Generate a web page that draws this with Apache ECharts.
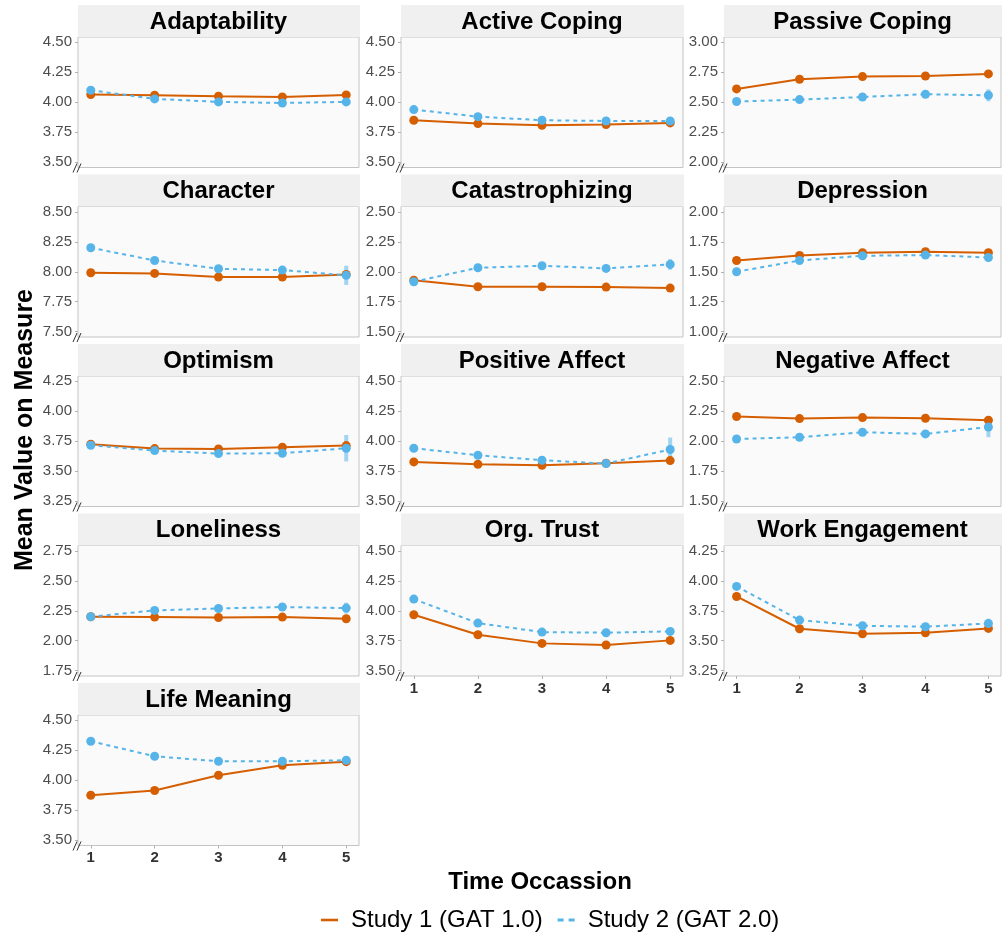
<!DOCTYPE html>
<html>
<head>
<meta charset="utf-8">
<script src="https://cdn.jsdelivr.net/npm/echarts@6.0.0/dist/echarts.min.js"></script>
<style>
html,body{margin:0;padding:0;background:#fff;}
#main{width:1002px;height:937px;}
</style>
</head>
<body>
<div id="main"></div>
<script>
// ---------------- DATA ----------------
const panelNames = ['Adaptability','Active Coping','Passive Coping','Character','Catastrophizing','Depression',
  'Optimism','Positive Affect','Negative Affect','Loneliness','Org. Trust','Work Engagement','Life Meaning'];
const timePoints = [1,2,3,4,5];
const yLow = [3.5,3.5,2.0,7.5,1.5,1.0,3.25,3.5,1.5,1.75,3.5,3.25,3.5];
const study1Means = [
  [4.064,4.058,4.050,4.044,4.061],
  [3.850,3.822,3.808,3.814,3.828],
  [2.611,2.692,2.714,2.719,2.736],
  [7.992,7.986,7.956,7.956,7.978],
  [1.930,1.875,1.875,1.872,1.864],
  [1.594,1.636,1.658,1.667,1.658],
  [3.725,3.689,3.686,3.700,3.714],
  [3.828,3.808,3.800,3.817,3.839],
  [2.206,2.189,2.197,2.192,2.175],
  [2.200,2.197,2.194,2.197,2.183],
  [3.967,3.800,3.728,3.714,3.753],
  [3.869,3.600,3.558,3.567,3.603],
  [3.875,3.915,4.042,4.125,4.155]
];
const study2Means = [
  [4.100,4.028,4.003,3.994,4.003],
  [3.939,3.880,3.850,3.844,3.844],
  [2.506,2.522,2.544,2.567,2.558],
  [8.200,8.094,8.025,8.014,7.970],
  [1.917,2.033,2.050,2.028,2.061],
  [1.500,1.594,1.633,1.639,1.619],
  [3.717,3.672,3.647,3.650,3.692],
  [3.942,3.883,3.842,3.814,3.931],
  [2.019,2.033,2.075,2.061,2.119],
  [2.200,2.253,2.269,2.281,2.272],
  [4.097,3.897,3.822,3.817,3.828],
  [3.953,3.672,3.625,3.617,3.644],
  [4.325,4.200,4.158,4.158,4.167]
];
const study2Err = [
  [0.01,0.01,0.01,0.01,0.02],
  [0.01,0.01,0.01,0.01,0.02],
  [0.01,0.01,0.01,0.01,0.05],
  [0.01,0.01,0.01,0.01,0.08],
  [0.01,0.01,0.01,0.01,0.045],
  [0.01,0.01,0.01,0.01,0.03],
  [0.01,0.01,0.01,0.01,0.11],
  [0.01,0.01,0.01,0.01,0.10],
  [0.01,0.01,0.01,0.01,0.085],
  [0.01,0.01,0.01,0.01,0.045],
  [0.01,0.01,0.01,0.01,0.03],
  [0.01,0.01,0.01,0.01,0.04],
  [0.01,0.01,0.01,0.01,0.03]
];
const xTickLabels = ['1','2','3','4','5'];
const seriesNames = ['Study 1 (GAT 1.0)','Study 2 (GAT 2.0)'];
const yTitle = 'Mean Value on Measure';
const xTitle = 'Time Occassion';

// ---------------- LAYOUT ----------------
const C1 = '#D55E00', C2 = '#56B4E9';
const FONT = '"Liberation Sans", Arial, sans-serif';
const colLeft = [78, 401, 724];
const colW = [281, 282, 277];
const rowStep = 169.5, topStart = 5, stripH = 32, plotH = 130.5;
const pad = 0.044;
const bottomPanels = [10, 11, 12];

const grids = [], xAxes = [], yAxes = [], series = [], graphics = [];

panelNames.forEach((name, i) => {
  const r = Math.floor(i / 3), c = i % 3;
  const left = colLeft[c], w = colW[c];
  const stripTop = topStart + r * rowStep;
  const plotTop = stripTop + stripH;
  grids.push({left: left, top: plotTop, width: w, height: plotH, show: true,
    backgroundColor: '#fafafa', borderColor: '#c4c4c4', borderWidth: 1});
  const isBottom = bottomPanels.includes(i);
  xAxes.push({type: 'value', gridIndex: i, min: 0.8, max: 5.2,
    axisLine: {show: false}, splitLine: {show: false},
    axisTick: {show: isBottom, length: 3, lineStyle: {color: '#b0b0b0'}, customValues: timePoints},
    axisLabel: {show: isBottom, customValues: timePoints, margin: 5,
      formatter: v => xTickLabels[timePoints.indexOf(v)] || '',
      fontFamily: FONT, fontSize: 15, fontWeight: 'bold', color: '#333'}});
  const lo = yLow[i];
  const yt = [lo, lo + 0.25, lo + 0.5, lo + 0.75, lo + 1];
  yAxes.push({type: 'value', gridIndex: i, min: lo - pad, max: lo + 1 + pad,
    axisLine: {show: false}, splitLine: {show: false},
    axisTick: {show: true, length: 3, lineStyle: {color: '#b0b0b0'}, customValues: yt},
    axisLabel: {customValues: yt, margin: 6, formatter: v => v.toFixed(2),
      fontFamily: FONT, fontSize: 15, color: '#4d4d4d'}});

  // error bars
  const errRender = (fill) => function (params, api) {
    const x = api.value(0), a = api.value(1), b = api.value(2);
    const p1 = api.coord([x, a]), p2 = api.coord([x, b]);
    return {type: 'rect', shape: {x: p1[0] - 2, y: p2[1], width: 4, height: p1[1] - p2[1]},
      style: {fill: fill}};
  };
  series.push({type: 'custom', name: 'err2_' + i, xAxisIndex: i, yAxisIndex: i, z: 1,
    renderItem: errRender('rgba(86,180,233,0.55)'),
    data: timePoints.map((t, k) => [t, study2Means[i][k] - study2Err[i][k], study2Means[i][k] + study2Err[i][k]]),
    encode: {x: 0, y: [1, 2]}, silent: true});
  series.push({type: 'line', name: seriesNames[0], xAxisIndex: i, yAxisIndex: i, z: 2,
    data: timePoints.map((t, k) => [t, study1Means[i][k]]),
    symbol: 'circle', symbolSize: 9, showSymbol: true,
    lineStyle: {color: C1, width: 2}, itemStyle: {color: C1}, emphasis: {disabled: true}, animation: false});
  series.push({type: 'line', name: seriesNames[1], xAxisIndex: i, yAxisIndex: i, z: 3,
    data: timePoints.map((t, k) => [t, study2Means[i][k]]),
    symbol: 'circle', symbolSize: 9, showSymbol: true,
    lineStyle: {color: C2, width: 2, type: [4, 4]}, itemStyle: {color: C2}, emphasis: {disabled: true}, animation: false});

  // strip
  graphics.push({type: 'rect', shape: {x: left, y: stripTop, width: w + 1, height: stripH}, style: {fill: '#f0f0f0'}, z: 0, silent: true});
  graphics.push({type: 'text', x: left + w / 2, y: stripTop + stripH / 2 + 1,
    style: {text: name, fill: '#000', font: 'bold 24px ' + FONT, textAlign: 'center', textVerticalAlign: 'middle'}, z: 5});
  // axis break mark "//"
  const bot = plotTop + plotH;
  graphics.push({type: 'line', shape: {x1: left - 5, y1: bot + 5, x2: left - 1, y2: bot - 4}, style: {stroke: '#333', lineWidth: 1}, z: 6});
  graphics.push({type: 'line', shape: {x1: left - 1, y1: bot + 5, x2: left + 3, y2: bot - 4}, style: {stroke: '#333', lineWidth: 1}, z: 6});
});

graphics.push({type: 'text', x: 25, y: 430, rotation: Math.PI / 2,
  style: {text: yTitle, fill: '#000', font: 'bold 25px ' + FONT, textAlign: 'center', textVerticalAlign: 'middle'}});
graphics.push({type: 'text', x: 540, y: 882,
  style: {text: xTitle, fill: '#000', font: 'bold 24px ' + FONT, textAlign: 'center', textVerticalAlign: 'middle'}});

const chart = echarts.init(document.getElementById('main'), null, {renderer: 'canvas'});
chart.setOption({
  animation: false,
  backgroundColor: '#fff',
  grid: grids, xAxis: xAxes, yAxis: yAxes, series: series, graphic: graphics,
  legend: {
    data: [
      {name: seriesNames[0], icon: 'path://M0,0L20,0L20,3L0,3Z'},
      {name: seriesNames[1], icon: 'path://M0,0L6,0L6,3L0,3Z M11,0L17,0L17,3L11,3Z'}
    ],
    left: 316, top: 903, itemWidth: 17, itemHeight: 3, itemGap: 15,
    textStyle: {fontFamily: FONT, fontSize: 24, color: '#000', padding: [0, 0, 0, 8]}, selectedMode: false
  }
});
</script>
</body>
</html>
